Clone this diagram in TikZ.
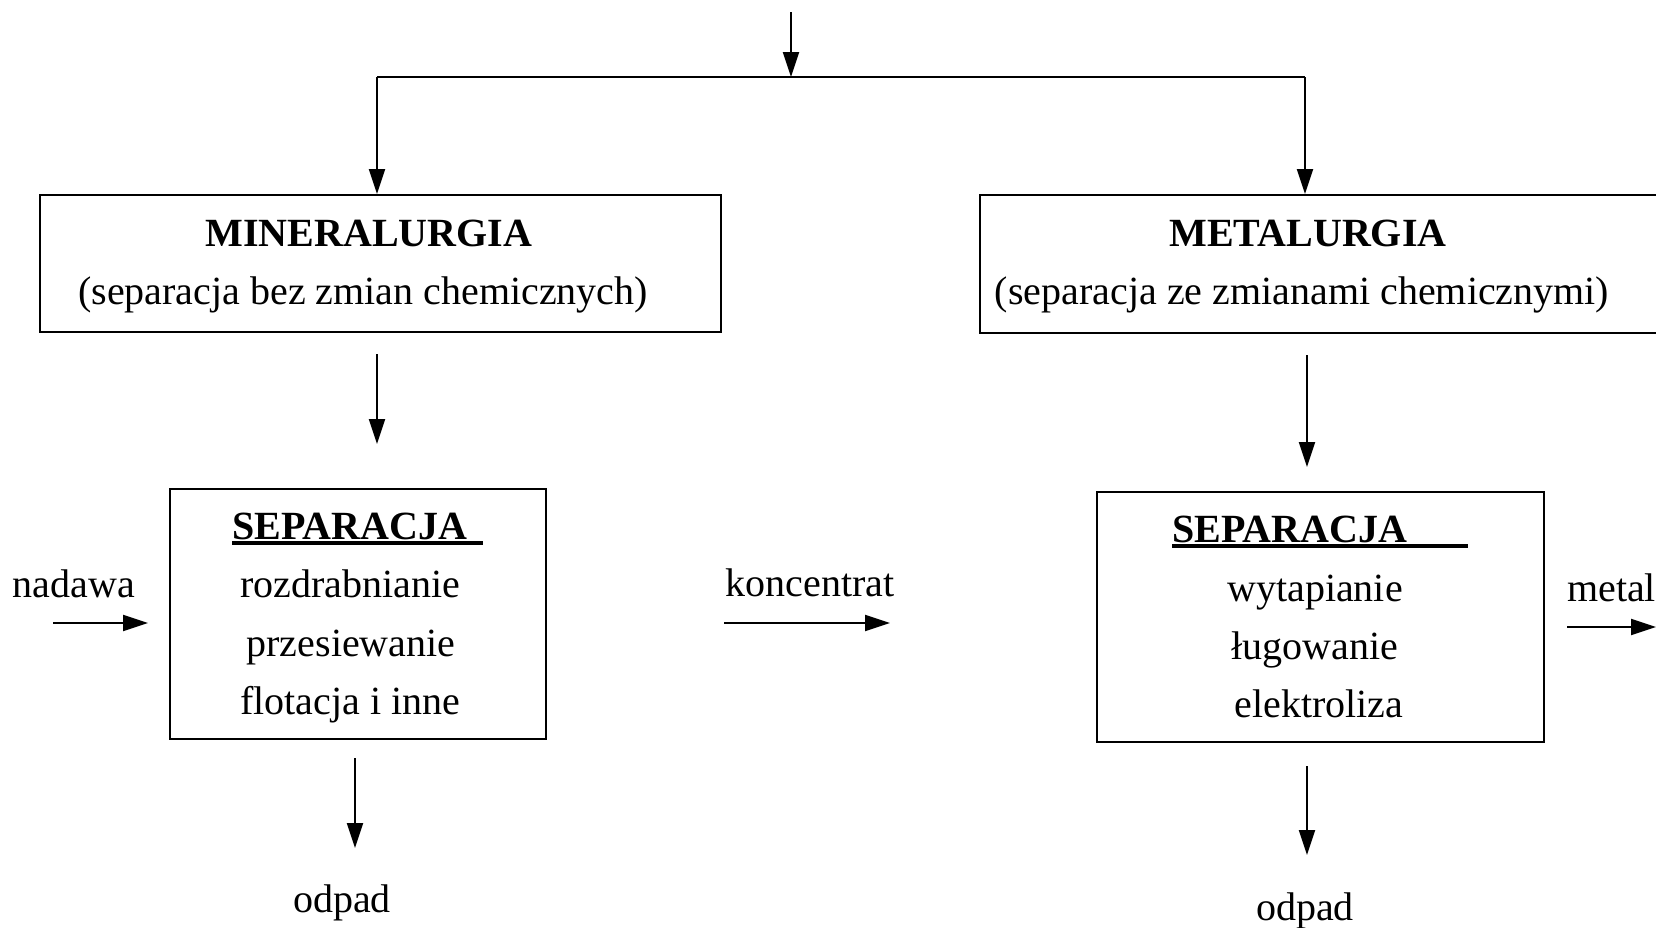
\documentclass[tikz,border=0pt]{standalone}
\usepackage{fontspec}
\setmainfont{Liberation Serif}
\usetikzlibrary{arrows.meta}
\begin{document}
\begin{tikzpicture}[x=1pt,y=-1pt,
  box/.style={draw,line width=2pt,inner sep=0pt,anchor=north west},
  lbl/.style={anchor=base,inner sep=0pt,font=\fontsize{40}{48}\selectfont},
  bl/.style={anchor=base,inner sep=0pt,font=\fontsize{40}{48}\selectfont\bfseries},
  arr/.style={line width=2pt,-{Triangle[length=25pt,width=16pt]}},
  ln/.style={line width=2pt}]
\clip (0,0) rectangle (1656,927);
\fill[white] (0,0) rectangle (1656,927);
% boxes
\node[box,minimum width=681pt,minimum height=137pt] (mbox) at (39,194) {};
\node[box,minimum width=721pt,minimum height=138pt] (mebox) at (979,194) {};
\node[box,minimum width=376pt,minimum height=250pt] (sbox) at (169,488) {};
\node[box,minimum width=447pt,minimum height=250pt] (s2box) at (1096,491) {};
% texts
\node[bl] (t1) at (369,246) {MINERALURGIA};
\node[lbl] (t2) at (363,304) {(separacja bez zmian chemicznych)};
\node[bl] (t3) at (1308,246) {METALURGIA};
\node[lbl] (t4) at (1302,304) {(separacja ze zmianami chemicznymi)};
\node[bl,anchor=base west] (s1) at (232,539) {\rlap{\rule[-6pt]{251pt}{4pt}}SEPARACJA};
\node[lbl] (a1) at (350,597) {rozdrabnianie};
\node[lbl] (a2) at (351,656) {przesiewanie};
\node[lbl] (a3) at (350,714) {flotacja i inne};
\node[bl,anchor=base west] (s2) at (1172,542) {\rlap{\rule[-6pt]{296pt}{4pt}}SEPARACJA};
\node[lbl] (b1) at (1315,601) {wytapianie};
\node[lbl] (b2) at (1315,659) {ługowanie};
\node[lbl] (b3) at (1319,717) {elektroliza};
\node[lbl] (nad) at (74,597) {nadawa};
\node[lbl] (kon) at (810,596) {koncentrat};
\node[lbl,anchor=base west] (met) at (1567,601) {metal};
\node[lbl] (o1) at (342,912) {odpad};
\node[lbl] (o2) at (1305,920) {odpad};
% connectors
\coordinate (top) at (791,12);
\coordinate (j) at (791,77);
\coordinate (jl) at (377,77);
\coordinate (jr) at (1305,77);
\draw[ln] (jl) -- (jr);
\draw[arr] (top) -- (j);
\draw[arr] (jl) -- (jl |- mbox.north);
\draw[arr] (jr) -- (jr |- mebox.north);
\coordinate (m1) at (377,354); \coordinate (m2) at (377,444);
\draw[arr] (m1) -- (m2);
\coordinate (e1) at (1307,355); \coordinate (e2) at (1307,467);
\draw[arr] (e1) -- (e2);
\coordinate (d1) at (355,758); \coordinate (d2) at (355,848);
\draw[arr] (d1) -- (d2);
\coordinate (f1) at (1307,766); \coordinate (f2) at (1307,855);
\draw[arr] (f1) -- (f2);
\coordinate (n1) at (53,623); \coordinate (n2) at (148,623);
\draw[arr] (n1) -- (n2);
\coordinate (k1) at (724,623); \coordinate (k2) at (890,623);
\draw[arr] (k1) -- (k2);
\coordinate (g1) at (1567,627); \coordinate (g2) at (1656,627);
\draw[arr] (g1) -- (g2);
\end{tikzpicture}
\end{document}
